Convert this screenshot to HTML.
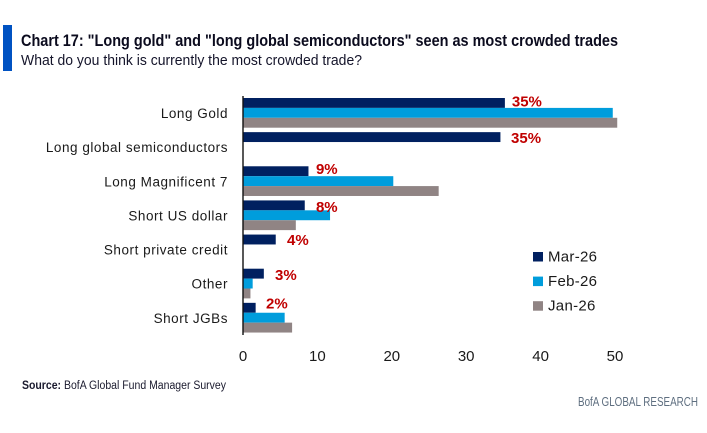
<!DOCTYPE html>
<html lang="en">
<head>
<meta charset="utf-8">
<title>Chart 17</title>
<style>
html,body{margin:0;padding:0;background:#fff;width:707px;height:433px;overflow:hidden}
svg{display:block}
text{font-family:"Liberation Sans",sans-serif}
</style>
</head>
<body>
<svg id="chart" width="707" height="433" viewBox="0 0 707 433" xmlns="http://www.w3.org/2000/svg">
  <rect x="3" y="25" width="9" height="46" fill="#0052c2"/>
  <text x="21" y="46" font-size="17" font-weight="bold" fill="#0b0b1e" textLength="597" lengthAdjust="spacingAndGlyphs">Chart 17: "Long gold" and "long global semiconductors" seen as most crowded trades</text>
  <text x="21" y="65" font-size="15" fill="#14142a" textLength="341" lengthAdjust="spacingAndGlyphs">What do you think is currently the most crowded trade?</text>
  <g id="bars"></g>
  <g id="cats"></g>
  <g id="vals"></g>
  <g id="ticks"></g>
  <line x1="243" x2="243" y1="96" y2="335" stroke="#111" stroke-width="1.4"/>
  <g id="legend"></g>
  <text x="22" y="389" font-size="11.5" fill="#1a1a2e" textLength="204" lengthAdjust="spacingAndGlyphs"><tspan font-weight="bold">Source:</tspan> BofA Global Fund Manager Survey</text>
  <text x="578" y="406" font-size="12.5" fill="#5f6f80" textLength="120" lengthAdjust="spacingAndGlyphs">BofA GLOBAL RESEARCH</text>
</svg>
<script>
const categories = ["Long Gold", "Long global semiconductors", "Long Magnificent 7", "Short US dollar", "Short private credit", "Other", "Short JGBs"];
const seriesNames = ["Mar-26", "Feb-26", "Jan-26"];
const mar26 = [35.2, 34.6, 8.8, 8.3, 4.4, 2.8, 1.7];
const feb26 = [49.7, null, 20.2, 11.7, null, 1.3, 5.6];
const jan26 = [50.3, null, 26.3, 7.1, null, 1.0, 6.6];
const printedLabels = ["35%", "35%", "9%", "8%", "4%", "3%", "2%"];
const xTicks = [0, 10, 20, 30, 40, 50];

const seriesValues = [mar26, feb26, jan26];
const colors = ["#002060", "#009ddc", "#908484"];
// hand-placement offsets of the printed labels, as in the original chart
const labelDx = [7, 10.6, 7.5, 11.2, 11.3, 11.2, 10.4];
const labelDy = [0, 2.5, -1, 3, 2, 3, -3];
const NS = "http://www.w3.org/2000/svg";
const x0 = 243, xUnit = 7.44, top0 = 96, band = 34.14, pad = 2, barH = 9.9;
const xScale = v => x0 + v * xUnit;
const bandTop = i => top0 + i * band;
function make(tag, attrs, parent, txt) {
  const el = document.createElementNS(NS, tag);
  for (const k in attrs) el.setAttribute(k, attrs[k]);
  if (txt !== undefined) el.textContent = txt;
  parent.appendChild(el);
  return el;
}
const barsG = document.getElementById("bars");
const catsG = document.getElementById("cats");
const valsG = document.getElementById("vals");
const ticksG = document.getElementById("ticks");
const legendG = document.getElementById("legend");

categories.forEach((c, i) => {
  seriesValues.forEach((vals, s) => {
    if (vals[i] === null) return;
    const r = make("rect", {x: x0, y: bandTop(i) + pad + s * barH, width: xScale(vals[i]) - x0, height: barH, fill: colors[s]}, barsG);
    
    
  });
  const t = make("text", {x: 228, y: bandTop(i) + 22, "text-anchor": "end", "font-size": 13.5, "letter-spacing": 0.54, fill: "#1a1a1a"}, catsG, c);
  
  
  const v = make("text", {x: xScale(mar26[i]) + labelDx[i], y: bandTop(i) + 10.5 + labelDy[i], "font-size": 15, "font-weight": "bold", fill: "#c00000"}, valsG, printedLabels[i]);
  
  
});

xTicks.forEach(tk => {
  const t = make("text", {x: xScale(tk), y: 361, "text-anchor": "middle", "font-size": 15, fill: "#1a1a1a"}, ticksG, tk);
  
  
});

seriesNames.forEach((n, s) => {
  const y = 252 + s * 24.6;
  const sw = make("rect", {x: 533, y: y, width: 10, height: 9.5, fill: colors[s]}, legendG);
  
  
  const t = make("text", {x: 548, y: y + 9.5, "font-size": 15, "letter-spacing": 0.3, fill: "#1a1a1a"}, legendG, n);
  
  
});
</script>
</body>
</html>
